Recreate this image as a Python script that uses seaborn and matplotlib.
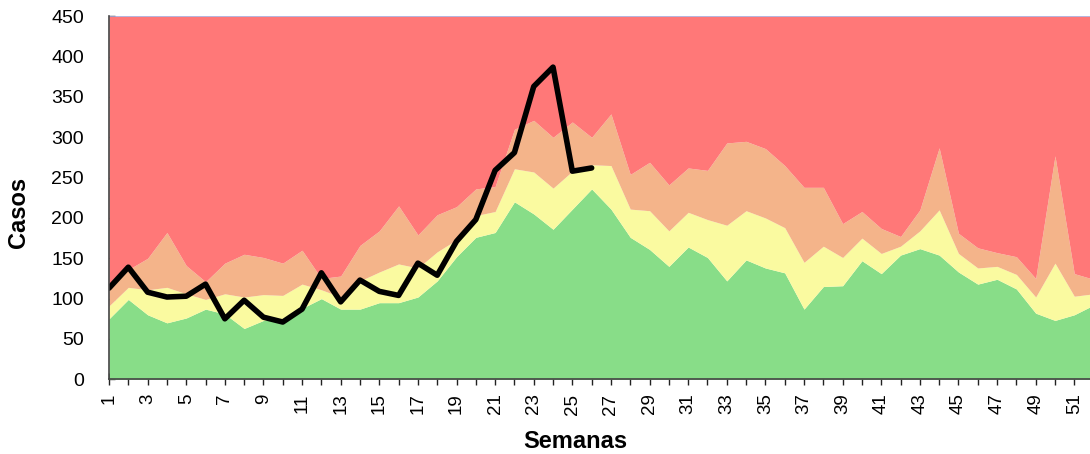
import numpy as np
import pandas as pd
import seaborn as sns
import matplotlib
matplotlib.use("Agg")
import matplotlib.pyplot as plt

# semanas epidemiologicas
semanas = list(range(1, 53))

# limites del canal endemico (casos)
zona_exito = [75, 99, 80, 70, 76, 87, 81, 63, 73, 75, 88, 100, 87, 87, 95, 95, 102, 122,
              152, 176, 182, 220, 205, 186, 211, 236, 211, 176, 161, 140, 164, 151, 122,
              148, 138, 132, 87, 115, 116, 147, 131, 154, 162, 154, 133, 118, 124, 112,
              82, 73, 80, 92]
zona_seguridad = [91, 114, 111, 114, 106, 99, 106, 102, 105, 104, 118, 111, 102, 122, 133,
                  143, 138, 158, 173, 203, 208, 261, 257, 237, 258, 266, 265, 211, 209, 184,
                  207, 198, 191, 209, 200, 188, 145, 165, 151, 175, 156, 165, 184, 210, 156,
                  138, 140, 130, 102, 144, 103, 106]
zona_alarma = [118, 136, 150, 182, 141, 121, 144, 155, 151, 144, 160, 125, 128, 166, 184,
               215, 179, 204, 214, 236, 239, 310, 321, 300, 319, 300, 329, 254, 269, 241,
               262, 259, 293, 295, 286, 265, 238, 238, 193, 208, 187, 177, 210, 287, 181,
               163, 157, 152, 125, 277, 131, 124]
zona_epidemia = [450] * 52

# casos observados (semanas 1-26)
semanas_obs = list(range(1, 27))
casos = [113, 139, 108, 102, 103, 118, 75, 98, 77, 71, 87, 132, 96, 123, 109, 104, 144,
         129, 171, 198, 259, 281, 363, 387, 258, 262]

sns.set_style("white")
plt.rcParams['font.family'] = ['Liberation Sans', 'DejaVu Sans']
plt.rcParams['text.color'] = 'black'
plt.rcParams['axes.labelcolor'] = 'black'
plt.rcParams['xtick.labelcolor'] = 'black'
plt.rcParams['ytick.labelcolor'] = 'black'

fig = plt.figure(figsize=(10.9, 4.54), dpi=100)
ax = fig.add_axes([109/1090, 1 - 379.3/454, (1093.6 - 109)/1090, 363/454])

ax.fill_between(semanas, 0, zona_exito, color='#88DD88', lw=0)
ax.fill_between(semanas, zona_exito, zona_seguridad, color='#FAFAA0', lw=0)
ax.fill_between(semanas, zona_seguridad, zona_alarma, color='#F4B48A', lw=0)
ax.fill_between(semanas, zona_alarma, zona_epidemia, color='#FF7878', lw=0)
ax.plot(semanas, zona_epidemia, color='#A8ACDC', lw=1.2)

df = pd.DataFrame({'Semanas': semanas_obs, 'Casos': casos})
sns.lineplot(data=df, x='Semanas', y='Casos', color='black', lw=4, ax=ax)

ax.set_xlim(1, 52)
ax.set_ylim(0, 450)
ax.set_xticks(semanas)
ax.set_xticklabels([str(s) if s % 2 == 1 else '' for s in semanas], rotation=90)
ax.set_yticks(range(0, 451, 50))

ax.tick_params(axis='x', direction='inout', length=8.6, width=1, color='#222222',
               labelsize=13.5, labelcolor='black', pad=6, bottom=True)
ax.tick_params(axis='y', direction='in', length=4, width=1, color='#333333',
               labelsize=14, labelcolor='black', pad=18, left=True)

for s in ['top', 'right']:
    ax.spines[s].set_visible(False)
for s in ['left', 'bottom']:
    ax.spines[s].set_color('#444444')
    ax.spines[s].set_linewidth(1.2)

ax.set_xlabel('Semanas', fontsize=17, fontweight='bold', color='black')
ax.set_ylabel('Casos', fontsize=17, fontweight='bold', color='black')
ax.xaxis.set_label_coords((575 - 109)/984.6, (379.3 - 442)/363)
ax.yaxis.set_label_coords((19 - 109)/984.6, (379.3 - 212)/363)
ax.xaxis.label.set_va('center')
ax.yaxis.label.set_va('center')

plt.savefig('out.png', dpi=100)
